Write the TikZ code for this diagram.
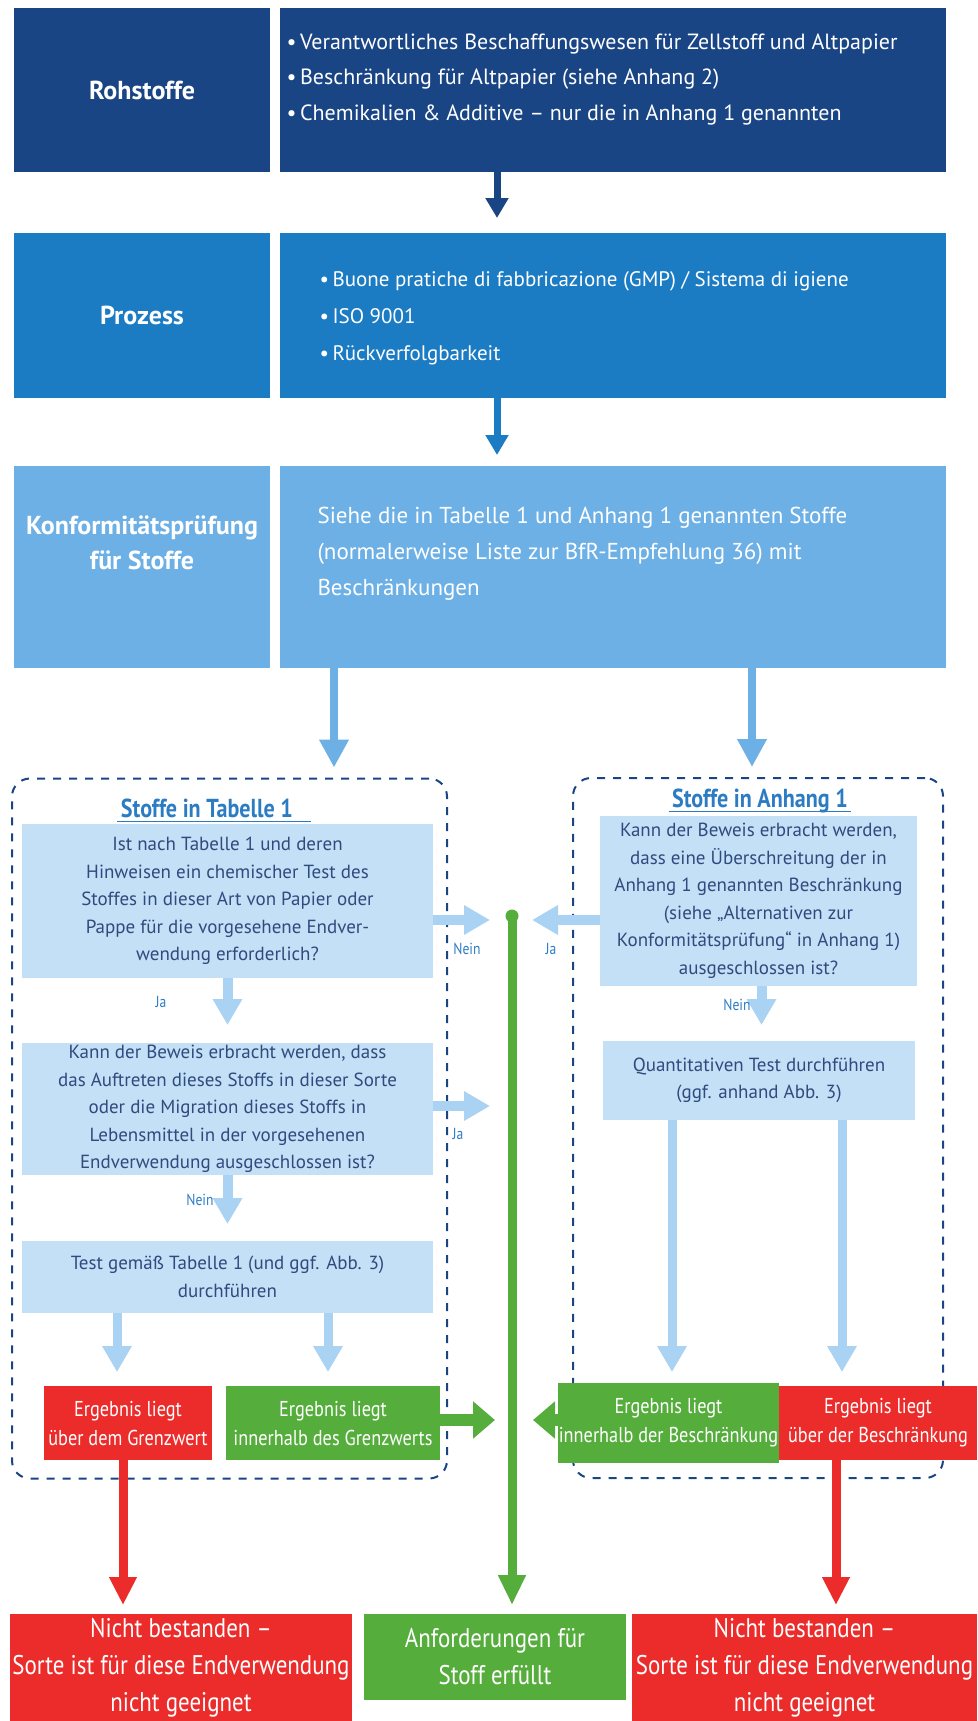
\documentclass[tikz,border=0pt]{standalone}
\usepackage{fontspec}
\setmainfont{PT Sans}
\newfontfamily\schmal{PT Sans}[FakeStretch=0.85]
\usetikzlibrary{arrows.meta}
\definecolor{dunkelblau}{HTML}{1A4585}
\definecolor{mittelblau}{HTML}{1B7BC3}
\definecolor{hellblau}{HTML}{6CB0E6}
\definecolor{fragblau}{HTML}{C3E0F6}
\definecolor{pfeilblau}{HTML}{A9D2F3}
\definecolor{textblau}{HTML}{2F4A7E}
\definecolor{labelblau}{HTML}{2C7CC4}
\definecolor{srot}{HTML}{EC2B2B}
\definecolor{sgruen}{HTML}{55AD3C}

\begin{document}
\begin{tikzpicture}[x=1pt, y=-1pt,
    box/.style={rectangle, inner sep=0pt, outer sep=0pt, align=center},
    feld/.style 2 args={box, minimum width=#1, minimum height=#2},
    titel/.style={text=white, font={\bfseries\fontsize{26}{35}\selectfont}, align=center},
    liste/.style={text=white, anchor=west, align=left, font={\fontsize{21.5}{35.5}\selectfont}},
    frage/.style={text=textblau, fill=fragblau, font={\fontsize{19}{27.5}\selectfont}},
    ergebnis/.style={text=white, font={\schmal\fontsize{21.5}{29}\selectfont}},
    ende/.style={text=white, font={\schmal\fontsize{27}{37}\selectfont}},
    rahmen/.style={draw=dunkelblau, line width=2pt, dash pattern=on 8pt off 8pt, rounded corners=18pt},
    kopf/.style={text=labelblau, font={\schmal\bfseries\fontsize{26}{30}\selectfont}},
    antwort/.style={text=labelblau, font={\schmal\fontsize{16}{18}\selectfont}},
    grosspfeil/.style={-{Triangle[width=22pt,length=20pt]}, line width=7pt},
    hellpfeil/.style={-{Triangle[width=28pt,length=26pt]}, line width=10pt, pfeilblau},
    gruenpfeil/.style={-{Triangle[width=30pt,length=24pt]}, line width=10pt, sgruen},
    rotpfeil/.style={-{Triangle[width=26pt,length=28pt]}, line width=9pt, srot}]
\useasboundingbox (0,0) rectangle (977,1721);

% Rohstoffe / Prozess / Konformitaet
\node[feld={256pt}{164pt}, fill=dunkelblau, titel] (ROHL) at (142,90) {Rohstoffe};
\node[feld={666pt}{164pt}, fill=dunkelblau] (ROHR) at (613,90) {};
\node[liste, font={\fontsize{22}{35.5}\selectfont}] (ROHT) at (283,79.5) {\textbullet\,Verantwortliches Beschaffungswesen für Zellstoff und Altpapier\\
  \textbullet\,Beschränkung für Altpapier (siehe Anhang 2)\\
  \textbullet\,Chemikalien \& Additive – nur die in Anhang 1 genannten};

\node[feld={256pt}{165pt}, fill=mittelblau, titel] (PROL) at (142,315.5) {Prozess};
\node[feld={666pt}{165pt}, fill=mittelblau] (PROR) at (613,315.5) {};
\node[liste, font={\fontsize{21}{37}\selectfont}] (PROT) at (316,318) {\textbullet\,Buone pratiche di fabbricazione (GMP) / Sistema di igiene\\
  \textbullet\,ISO 9001\\
  \textbullet\,Rückverfolgbarkeit};

\node[feld={256pt}{202pt}, fill=hellblau] (KONL) at (142,567) {};
\node[titel] (KONLT) at (142,543) {Konformitätsprüfung\\für Stoffe};
\node[feld={666pt}{202pt}, fill=hellblau] (KONR) at (613,567) {};
\node[liste, font={\fontsize{23}{36}\selectfont}] (KONT) at (314,554) {Siehe die in Tabelle 1 und Anhang 1 genannten Stoffe\\
  (normalerweise Liste zur BfR-Empfehlung 36) mit\\
  Beschränkungen};

\draw[grosspfeil, dunkelblau, shorten >=15pt] ([xshift=217pt]ROHR.south west) -- ([xshift=217pt]PROR.north west);
\draw[grosspfeil, mittelblau, shorten >=11pt] ([xshift=217pt]PROR.south west) -- ([xshift=217pt]KONR.north west);

% Stoffe in Tabelle 1
\node[feld={435pt}{700pt}, rahmen] (TAB) at (229.5,1128.5) {};
\node[kopf] (TABK) at (207,808) {Stoffe in Tabelle 1};
\draw[labelblau, line width=1.2pt] ([yshift=-4pt]TABK.base west) -- ([yshift=-4pt,xshift=14pt]TABK.base east);
\node[feld={411pt}{154pt}, frage] (Q1) at (227.5,901) {Ist nach Tabelle 1 und deren\\Hinweisen ein chemischer Test des\\Stoffes in dieser Art von Papier oder\\Pappe für die vorgesehene Endver-\\wendung erforderlich?};
\node[feld={411pt}{132pt}, frage] (Q2) at (227.5,1109) {Kann der Beweis erbracht werden, dass\\das Auftreten dieses Stoffs in dieser Sorte\\oder die Migration dieses Stoffs in\\Lebensmittel in der vorgesehenen\\Endverwendung ausgeschlossen ist?};
\node[feld={411pt}{72pt}, frage] (Q3) at (227.5,1277) {Test gemäß Tabelle 1 (und ggf. Abb. 3)\\durchführen};
\node[feld={168pt}{74pt}, fill=srot, ergebnis] (ROTL) at (128,1423) {Ergebnis liegt\\über dem Grenzwert};
\node[feld={214pt}{74pt}, fill=sgruen, ergebnis] (GRUENL) at (333,1423) {Ergebnis liegt\\innerhalb des Grenzwerts};

% Stoffe in Anhang 1
\node[feld={370pt}{700pt}, rahmen] (ANH) at (758,1128) {};
\node[kopf] (ANHK) at (760,801) {Stoffe in Anhang 1};
\draw[labelblau, line width=1.2pt] ([yshift=-4pt]ANHK.base west) -- ([yshift=-4pt]ANHK.base east);
\node[feld={317pt}{170pt}, frage] (A1) at (758.5,901) {Kann der Beweis erbracht werden,\\dass eine Überschreitung der in\\Anhang 1 genannten Beschränkung\\(siehe „Alternativen zur\\Konformitätsprüfung“ in Anhang 1)\\ausgeschlossen ist?};
\node[feld={312pt}{79pt}, frage] (A2) at (759,1080.5) {Quantitativen Test durchführen\\(ggf. anhand Abb. 3)};
\node[feld={221pt}{80pt}, fill=sgruen, ergebnis] (GRUENR) at (668.5,1423) {Ergebnis liegt\\innerhalb der Beschränkung};
\node[feld={198pt}{74pt}, fill=srot, ergebnis] (ROTR) at (878,1423) {Ergebnis liegt\\über der Beschränkung};

% Endergebnisse
\node[feld={342pt}{107pt}, fill=srot, ende] (NICHTL) at (181,1667.5) {Nicht bestanden –\\Sorte ist für diese Endverwendung\\nicht geeignet};
\node[feld={262pt}{86pt}, fill=sgruen, ende] (ERFUELLT) at (495,1657) {Anforderungen für\\Stoff erfüllt};
\node[feld={345pt}{107pt}, fill=srot, ende] (NICHTR) at (804.5,1667.5) {Nicht bestanden –\\Sorte ist für diese Endverwendung\\nicht geeignet};

% Pfeile
\draw[grosspfeil, hellblau, line width=8pt, -{Triangle[width=28pt,length=28pt]}, shorten >=11pt] ([xshift=54pt]KONR.south west) -- ([xshift=322pt]TAB.north west);
\draw[grosspfeil, hellblau, line width=8pt, -{Triangle[width=28pt,length=28pt]}, shorten >=11pt] ([xshift=472pt]KONR.south west) -- ([xshift=179pt]ANH.north west);

\coordinate (OBEN) at (512,916);
\draw[sgruen, line width=9pt, -{Triangle[width=26pt,length=30pt]}, shorten >=9pt] (OBEN) -- ([xshift=17pt]ERFUELLT.north);
\fill[sgruen] (OBEN) circle (6.5pt);

\draw[hellpfeil, shorten >=18pt] (Q1.south) -- (Q2.north);
\draw[hellpfeil, shorten >=17pt] (Q2.south) -- (Q3.north);
\draw[hellpfeil, shorten >=22pt] ([yshift=-19pt]Q1.east) -- ([yshift=-19pt]Q1.east -| OBEN);
\draw[hellpfeil, shorten >=22pt] ([yshift=3pt]Q2.east) -- ([yshift=3pt]Q2.east -| OBEN);
\draw[hellpfeil, shorten >=20pt] ([yshift=-19pt]A1.west) -- ([yshift=-19pt]A1.west -| OBEN);
\draw[hellpfeil, shorten >=16pt] ([xshift=3pt]A1.south) -- ([xshift=3pt]A1.south |- A2.north);

\draw[hellpfeil, line width=9pt, shorten >=14pt] ([xshift=95pt]Q3.south west) -- ([xshift=95pt]Q3.south west |- ROTL.north);
\draw[hellpfeil, line width=9pt, shorten >=14pt] ([xshift=306pt]Q3.south west) -- ([xshift=306pt]Q3.south west |- GRUENL.north);
\draw[hellpfeil, line width=9pt, shorten >=11pt] ([xshift=69pt]A2.south west) -- ([xshift=69pt]A2.south west |- GRUENR.north);
\draw[hellpfeil, line width=9pt, shorten >=14pt] ([xshift=239pt]A2.south west) -- ([xshift=239pt]A2.south west |- ROTR.north);

\draw[gruenpfeil, line width=12pt, -{Triangle[width=36pt,length=22pt]}, shorten >=17pt] ([yshift=3pt]GRUENL.east) -- ([yshift=3pt]GRUENL.east -| OBEN);
\draw[gruenpfeil, line width=12pt, -{Triangle[width=36pt,length=22pt]}, shorten >=21pt] ([yshift=3pt]GRUENR.west) -- ([yshift=3pt]GRUENR.west -| OBEN);

\draw[rotpfeil, shorten >=9pt] ([xshift=-5pt]ROTL.south) -- ([xshift=-5pt]ROTL.south |- NICHTL.north);
\draw[rotpfeil, shorten >=9pt] ([xshift=-42pt]ROTR.south) -- ([xshift=-42pt]ROTR.south |- NICHTR.north);

% Ja / Nein
\node[antwort] (JA1) at (161,1002) {Ja};
\node[antwort] (NEIN1) at (467,949) {Nein};
\node[antwort] (JA2) at (458,1134) {Ja};
\node[antwort] (NEIN2) at (200,1200) {Nein};
\node[antwort] (JA3) at (551,949) {Ja};
\node[antwort] (NEIN3) at (737,1005) {Nein};
\end{tikzpicture}
\end{document}
